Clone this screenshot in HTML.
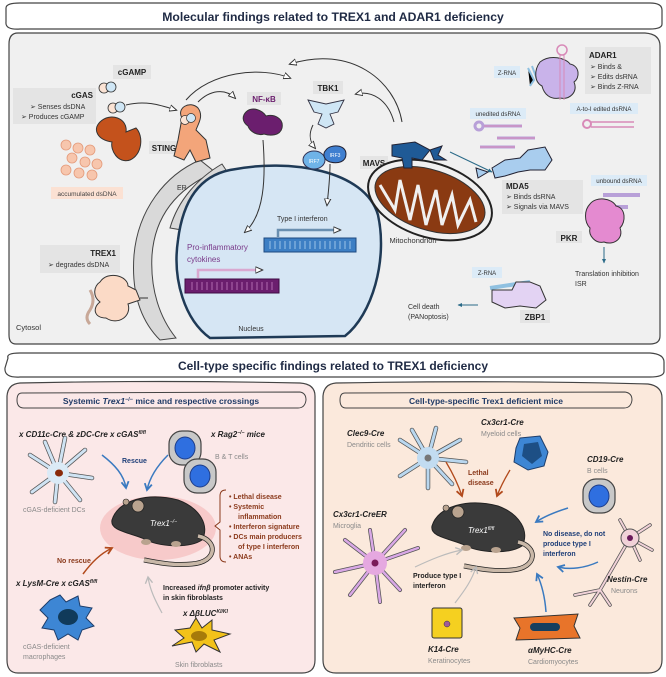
<!DOCTYPE html>
<html><head><meta charset="utf-8"><style>
html,body{margin:0;padding:0;background:#fff}
svg{display:block}
text{font-family:"Liberation Sans",sans-serif}
.t{font-size:7px;fill:#333}
.b{font-weight:bold;fill:#222}
.lb{fill:#e4e4e4}
.it{font-style:italic;font-weight:bold;font-size:8px;fill:#222}
.g{font-size:7px;fill:#8a8a8a}
.br{font-size:7px;fill:#8b3a1c;font-weight:bold}
.bl{font-size:7px;fill:#1f3f78;font-weight:bold}
</style></head><body>
<svg width="666" height="677" viewBox="0 0 666 677" xmlns="http://www.w3.org/2000/svg">
<defs>
<marker id="ah" viewBox="0 0 10 10" refX="8" refY="5" markerWidth="8" markerHeight="8" markerUnits="userSpaceOnUse" orient="auto"><path d="M0,1 L9,5 L0,9 Z" fill="#fff" stroke="#333" stroke-width="1.2"/></marker>
<marker id="ab" viewBox="0 0 10 10" refX="8" refY="5" markerWidth="9" markerHeight="9" markerUnits="userSpaceOnUse" orient="auto"><path d="M1,1 L8,5 L1,9" fill="none" stroke="#3a7ac0" stroke-width="2"/></marker>
<marker id="ao" viewBox="0 0 10 10" refX="8" refY="5" markerWidth="9" markerHeight="9" markerUnits="userSpaceOnUse" orient="auto"><path d="M1,1 L8,5 L1,9" fill="none" stroke="#b24a1c" stroke-width="2"/></marker>
<marker id="ag" viewBox="0 0 10 10" refX="8" refY="5" markerWidth="9" markerHeight="9" markerUnits="userSpaceOnUse" orient="auto"><path d="M1,1 L8,5 L1,9" fill="none" stroke="#bbb" stroke-width="1.5"/></marker>
<marker id="an" viewBox="0 0 10 10" refX="8" refY="5" markerWidth="5" markerHeight="5" markerUnits="userSpaceOnUse" orient="auto"><path d="M0,1 L9,5 L0,9 Z" fill="#2a6a88"/></marker>
<g id="mouse">
<path d="M-48,-2 C-42,-22 -12,-30 18,-22 C40,-14 50,4 42,18 C30,26 0,26 -18,16 C-34,10 -50,8 -48,-2Z" fill="#3a3a3a" stroke="#222" stroke-width="1"/>
<circle cx="-22" cy="-16" r="6" fill="#b9a38f" stroke="#222" stroke-width="0.8"/>
<circle cx="-34" cy="-20" r="3" fill="#b9a38f" stroke="#222" stroke-width="0.6"/>
<path d="M38,14 C58,18 58,40 32,42 C12,44 -4,40 -16,38" fill="none" stroke="#222" stroke-width="5"/>
<path d="M38,14 C58,18 58,40 32,42 C12,44 -4,40 -16,38" fill="none" stroke="#c9b8a8" stroke-width="3.5"/>
<ellipse cx="-14" cy="20" rx="5" ry="3" fill="#b9a38f"/><ellipse cx="16" cy="22" rx="5" ry="3" fill="#b9a38f"/>
</g>
<g id="cellB"><rect x="-16" y="-17" width="32" height="34" rx="13" fill="#c8c8c8" stroke="#444" stroke-width="1.2"/><ellipse cx="0" cy="0" rx="10" ry="11" fill="#2f6fe0" stroke="#1d3d8a"/></g>
</defs>

<!-- TOP HEADER -->
<path d="M6,8 Q6,3 20,3 L650,3 Q662,3 662,10 L662,24 Q662,29 650,29 L20,29 Q5,30 6,22Z" fill="#fff" stroke="#444" stroke-width="1.2"/>
<text x="333" y="21" text-anchor="middle" font-size="12.2" font-weight="bold" fill="#1f2a44">Molecular findings related to TREX1 and ADAR1 deficiency</text>

<!-- TOP PANEL -->
<path d="M18,33 L645,33 Q660,34 660,46 L660,336 Q660,344 650,344 L16,344 Q9,344 9,335 L9,44 Q9,33 18,33Z" fill="#f0f0f0" stroke="#444" stroke-width="1.2"/>

<!-- ER -->
<path d="M200,160 C165,175 138,210 134,255 C131,295 142,322 160,340 L176,338 C160,318 150,290 152,255 C155,215 178,188 215,172 Z" fill="#d9d9d9" stroke="#444" stroke-width="1"/>
<path d="M222,164 C198,178 178,200 170,228 L182,230 C190,205 206,188 230,176Z" fill="#d9d9d9" stroke="#444" stroke-width="1"/>
<text x="177" y="190" class="t" font-size="6">ER</text>

<!-- Nucleus -->
<path d="M230,170 C290,158 365,170 378,215 C388,260 372,315 345,336 L210,338 C185,320 172,280 178,240 C183,200 200,176 230,170Z" fill="#d6e6f4" stroke="#1f3a56" stroke-width="2.5"/>
<text x="251" y="331" class="t" text-anchor="middle">Nucleus</text>
<text x="277" y="221" class="t" font-size="8" fill="#333">Type I interferon</text>
<path d="M278,237 L278,230 L340,230" fill="none" stroke="#6a8fb0" stroke-width="2.5" marker-end="url(#ah)"/>
<rect x="264" y="238" width="92" height="14" fill="#3d7fc4" stroke="#1f4a80"/>
<g stroke="#9cc3e8" stroke-width="1"><path d="M270,241v8M275,241v8M280,241v8M285,241v8M290,241v8M295,241v8M300,241v8M305,241v8M310,241v8M315,241v8M320,241v8M325,241v8M330,241v8M335,241v8M340,241v8M345,241v8M350,241v8"/></g>
<text x="187" y="250" font-size="8" fill="#7a3a8a">Pro-inflammatory</text>
<text x="187" y="262" font-size="8" fill="#7a3a8a">cytokines</text>
<path d="M198,278 L198,270 L262,270" fill="none" stroke="#d9a8d0" stroke-width="2.5" marker-end="url(#ah)"/>
<rect x="185" y="279" width="94" height="14" fill="#6b1e6e" stroke="#3f0c44"/>
<g stroke="#b06ab0" stroke-width="1"><path d="M192,282v8M197,282v8M202,282v8M207,282v8M212,282v8M217,282v8M222,282v8M227,282v8M232,282v8M237,282v8M242,282v8M247,282v8M252,282v8M257,282v8M262,282v8M267,282v8M272,282v8"/></g>

<!-- cGAMP -->
<rect x="113" y="65" width="38" height="14" class="lb"/>
<text x="132" y="75" text-anchor="middle" font-size="8" class="b">cGAMP</text>
<circle cx="104" cy="88" r="5" fill="#fbe3d4" stroke="#333" stroke-width="0.8"/><circle cx="111" cy="87" r="5" fill="#cfe6f5" stroke="#333" stroke-width="0.8"/>
<circle cx="113" cy="108" r="5" fill="#fbe3d4" stroke="#333" stroke-width="0.8"/><circle cx="120" cy="107" r="5" fill="#cfe6f5" stroke="#333" stroke-width="0.8"/>
<!-- cGAS -->
<rect x="13" y="88" width="83" height="36" class="lb"/>
<text x="93" y="98" text-anchor="end" font-size="8" class="b">cGAS</text>
<text x="30" y="109" class="t">➢  Senses dsDNA</text>
<text x="21" y="119" class="t">➢  Produces cGAMP</text>
<path d="M100,122 C110,112 128,118 126,132 L136,128 C144,136 142,155 130,160 C118,164 110,150 112,142 C98,140 92,130 100,122Z" fill="#c4521c" stroke="#333" stroke-width="1"/>
<g fill="#f7c6ad" stroke="#e49a7a" stroke-width="0.8">
<circle cx="66" cy="145" r="5"/><circle cx="78" cy="148" r="5"/><circle cx="90" cy="150" r="5"/><circle cx="72" cy="158" r="5"/><circle cx="85" cy="162" r="5"/><circle cx="97" cy="164" r="5"/><circle cx="66" cy="170" r="5"/><circle cx="79" cy="173" r="5"/><circle cx="92" cy="175" r="5"/></g>
<rect x="51" y="187" width="72" height="12" fill="#fbe1d3"/>
<text x="87" y="196" text-anchor="middle" font-size="6.5" fill="#444">accumulated dsDNA</text>

<!-- STING -->
<rect x="149" y="141" width="30" height="13" class="lb"/>
<text x="164" y="151" text-anchor="middle" font-size="8" class="b">STING</text>
<path d="M182,118 C176,108 190,100 198,108 C204,116 198,124 196,130 L206,140 L210,158 L196,162 L190,150 L184,160 L174,156 L178,140 Z" fill="#f3a57a" stroke="#333" stroke-width="1"/>
<circle cx="185" cy="120" r="4.5" fill="#fbe3d4" stroke="#333" stroke-width="0.7"/><circle cx="191" cy="118" r="4.5" fill="#cfe6f5" stroke="#333" stroke-width="0.7"/>

<!-- NF-kB -->
<rect x="247" y="92" width="34" height="13" class="lb"/>
<text x="264" y="102" text-anchor="middle" font-size="8" font-weight="bold" fill="#6b1e6e">NF-κB</text>
<path d="M246,112 C252,106 262,110 266,116 C274,114 284,118 282,128 C280,136 270,136 264,134 C258,136 250,132 248,126 C242,122 242,116 246,112Z" fill="#6b1e6e" stroke="#333"/>

<!-- TBK1 -->
<rect x="313" y="81" width="30" height="13" class="lb"/>
<text x="328" y="91" text-anchor="middle" font-size="8" class="b">TBK1</text>
<path d="M308,100 L326,104 L344,100 L338,112 L330,114 L334,124 L326,128 L318,124 L322,114 L314,112Z" fill="#cfe6f5" stroke="#334" stroke-width="0.9"/>
<ellipse cx="314" cy="160" rx="11" ry="9" fill="#6fb3e8" stroke="#335"/>
<text x="314" y="163" text-anchor="middle" font-size="5" fill="#fff">IRF7</text>
<path d="M326,150 C330,144 346,144 346,154 C346,162 338,164 330,162 C324,160 322,154 326,150Z" fill="#3f7fd0" stroke="#223"/>
<text x="335" y="157" text-anchor="middle" font-size="5" fill="#fff">IRF3</text>

<!-- MAVS & mito -->
<rect x="360" y="156" width="28" height="13" class="lb"/>
<text x="374" y="166" text-anchor="middle" font-size="8" class="b">MAVS</text>
<ellipse cx="430" cy="200" rx="64" ry="37" transform="rotate(18 430 200)" fill="#f0f0f0" stroke="#222" stroke-width="2"/>
<ellipse cx="430" cy="200" rx="57" ry="30" transform="rotate(18 430 200)" fill="#8a3a12" stroke="#333"/>
<path d="M380,185 L395,210 L400,180 L410,220 L418,185 L426,225 L436,190 L442,225 L452,195 L458,225 L470,200 L476,222" fill="none" stroke="#f0f0f0" stroke-width="3"/>
<text x="413" y="243" text-anchor="middle" font-size="7.5" fill="#333">Mitochondrion</text>
<path d="M392,145 L415,142 L430,150 L422,160 L412,158 L412,168 L404,168 L402,158 L392,156Z" fill="#1f5a96" stroke="#223"/>
<path d="M430,150 L442,146 L438,155 L446,160 L434,160Z" fill="#1f5a96" stroke="#223"/>
<line x1="450" y1="152" x2="492" y2="172" stroke="#2a6a88" stroke-width="1" marker-end="url(#an)"/>

<!-- MDA5 -->
<rect x="470" y="108" width="56" height="11" fill="#dcebf7"/>
<text x="498" y="116" text-anchor="middle" font-size="6.2" fill="#333">unedited dsRNA</text>
<g stroke="#b8a0d8" stroke-width="3" fill="none"><circle cx="479" cy="126" r="4"/><path d="M484,126 H522 M497,138 H535 M480,147 H515"/></g>
<g stroke="#d88ab8" stroke-width="1" fill="none"><path d="M484,126 H522 M497,138 H535 M480,147 H515"/></g>
<path d="M492,168 L505,160 L520,158 L528,150 L545,147 L552,160 L545,170 L530,170 L518,172 L505,176 L495,178Z" fill="#a9cdee" stroke="#223"/>
<path d="M476,168 L488,172 L478,178Z" fill="#a9cdee" stroke="#223"/>
<rect x="502" y="180" width="81" height="34" class="lb"/>
<text x="506" y="189" font-size="8" class="b">MDA5</text>
<text x="506" y="199" class="t">➢  Binds dsRNA</text>
<text x="506" y="209" class="t">➢  Signals via MAVS</text>

<!-- ADAR1 -->
<rect x="585" y="47" width="66" height="47" class="lb"/>
<text x="589" y="58" font-size="8" class="b">ADAR1</text>
<text x="590" y="69" class="t">➢  Binds &amp;</text>
<text x="590" y="79" class="t">➢  Edits dsRNA</text>
<text x="590" y="89" class="t">➢  Binds Z-RNA</text>
<rect x="494" y="66" width="26" height="12" fill="#dcebf7"/>
<text x="507" y="75" text-anchor="middle" font-size="6" fill="#333">Z-RNA</text>
<path d="M528,68 L534,80 L530,86 M532,66 L538,82" stroke="#8fc0e0" stroke-width="2"/>
<path d="M540,62 C550,54 566,58 570,64 C580,66 580,78 574,82 C578,92 570,100 560,98 C550,100 544,94 542,86 C534,82 534,70 540,62Z" fill="#c9b3ea" stroke="#333"/>
<circle cx="562" cy="50" r="5" fill="none" stroke="#d88ab8" stroke-width="1.5"/><path d="M560,55 V100 M564,55 V100" stroke="#d88ab8"/>
<rect x="570" y="103" width="68" height="11" fill="#dcebf7"/>
<text x="604" y="111" text-anchor="middle" font-size="6.2" fill="#333">A-to-I edited dsRNA</text>
<circle cx="587" cy="124" r="4" fill="none" stroke="#d88ab8" stroke-width="2"/><path d="M591,122 H634 M591,127 H634" stroke="#d88ab8" stroke-width="1.5"/>

<!-- PKR -->
<rect x="591" y="175" width="56" height="11" fill="#dcebf7"/>
<text x="619" y="183" text-anchor="middle" font-size="6.2" fill="#333">unbound dsRNA</text>
<path d="M603,195 H640 M590,207 H628" stroke="#b8a0d8" stroke-width="4"/>
<path d="M590,204 C596,196 612,198 616,206 C626,208 626,222 620,228 C624,238 614,246 604,242 C596,244 588,236 590,228 C584,222 584,210 590,204Z" fill="#e48ad0" stroke="#333"/>
<rect x="556" y="231" width="26" height="12" class="lb"/>
<text x="569" y="241" text-anchor="middle" font-size="8" class="b">PKR</text>
<line x1="604" y1="247" x2="604" y2="263" stroke="#2a6a88" stroke-width="1" marker-end="url(#an)"/>
<text x="575" y="276" font-size="7" fill="#333">Translation inhibition</text>
<text x="575" y="286" font-size="7" fill="#333">ISR</text>

<!-- ZBP1 -->
<rect x="472" y="267" width="30" height="11" fill="#dcebf7"/>
<text x="487" y="275" text-anchor="middle" font-size="6" fill="#333">Z-RNA</text>
<path d="M490,288 L530,282" stroke="#8fc0e0" stroke-width="4"/>
<path d="M492,290 L512,290 L516,282 L530,282 L540,286 L546,300 L536,308 L520,306 L505,308 L492,302Z" fill="#e3d3f3" stroke="#333"/>
<rect x="520" y="310" width="30" height="13" class="lb"/>
<text x="535" y="320" text-anchor="middle" font-size="8" class="b">ZBP1</text>
<line x1="478" y1="305" x2="458" y2="305" stroke="#2a6a88" stroke-width="1" marker-end="url(#an)"/>
<text x="408" y="309" font-size="7" fill="#333">Cell death</text>
<text x="408" y="319" font-size="7" fill="#333">(PANoptosis)</text>

<!-- TREX1 -->
<rect x="40" y="245" width="80" height="28" class="lb"/>
<text x="116" y="256" text-anchor="end" font-size="8" class="b">TREX1</text>
<text x="48" y="267" class="t">➢  degrades dsDNA</text>
<path d="M100,282 C108,270 128,276 128,286 L136,290 L140,300 L128,304 C132,316 118,326 106,318 C94,318 92,308 100,302 C92,296 94,286 100,282Z" fill="#fbdac6" stroke="#333"/>
<path d="M140,298 H148" stroke="#333"/>
<path d="M90,290 Q96,300 90,310 Q84,318 90,324" stroke="#c8a898" stroke-width="3" fill="none"/>
<text x="16" y="330" font-size="7.5" fill="#333">Cytosol</text>

<!-- arrows -->
<path d="M126,105 C145,100 160,105 176,110" fill="none" stroke="#333" stroke-width="1" marker-end="url(#ah)"/>
<path d="M186,100 C210,72 260,66 290,78" fill="none" stroke="#333" stroke-width="1" marker-end="url(#ah)"/>
<path d="M198,102 C210,90 225,88 235,98" fill="none" stroke="#333" stroke-width="1" marker-end="url(#ah)"/>
<path d="M402,122 C395,80 350,45 290,64" fill="none" stroke="#333" stroke-width="1" marker-end="url(#ah)"/>
<path d="M394,122 C388,100 372,90 356,94" fill="none" stroke="#333" stroke-width="1" marker-end="url(#ah)"/>
<path d="M313,125 C308,135 310,142 315,148" fill="none" stroke="#333" stroke-width="1" marker-end="url(#ah)"/>
<path d="M330,164 C330,180 328,195 327,205" fill="none" stroke="#333" stroke-width="1" marker-end="url(#ah)"/>
<path d="M263,140 C266,180 264,215 245,232" fill="none" stroke="#333" stroke-width="1" marker-end="url(#ah)"/>

<!-- BOTTOM HEADER -->
<path d="M8,358 Q6,353 20,353 L650,353 Q664,354 664,362 L664,372 Q663,377 650,377 L20,377 Q4,378 5,368Z" fill="#fff" stroke="#444" stroke-width="1.2"/>
<text x="333" y="370" text-anchor="middle" font-size="12" font-weight="bold" fill="#1f2a44">Cell-type specific findings related to TREX1 deficiency</text>

<!-- LEFT PANEL -->
<path d="M20,383 Q160,380 300,383 Q315,384 315,396 L315,660 Q315,673 302,673 L18,673 Q7,673 7,660 L7,396 Q8,384 20,383Z" fill="#fbe8e8" stroke="#444" stroke-width="1.2"/>
<path d="M22,393 L300,392 Q306,393 306,400 Q305,408 298,408 L24,408 Q17,408 17,400 Q17,393 22,393Z" fill="#fbe8e8" stroke="#444" stroke-width="1"/>
<text x="161" y="404" text-anchor="middle" font-size="8.5" fill="#1f3a66" font-weight="bold">Systemic <tspan font-style="italic">Trex1</tspan><tspan font-size="5.5" dy="-3">−/−</tspan><tspan dy="3"> mice and respective crossings</tspan></text>

<text x="19" y="437" class="it">x CD11c-Cre &amp; zDC-Cre x cGAS<tspan font-size="5" dy="-3">fl/fl</tspan></text>
<g stroke="#555" stroke-width="4.5" stroke-linecap="round"><path d="M58,473 L30,455 M58,473 L45,442 M58,473 L65,438 M58,473 L85,450 M58,473 L92,478 M58,473 L80,500 M58,473 L55,502 M58,473 L32,492"/></g>
<g stroke="#cfe3f3" stroke-width="3" stroke-linecap="round"><path d="M58,473 L30,455 M58,473 L45,442 M58,473 L65,438 M58,473 L85,450 M58,473 L92,478 M58,473 L80,500 M58,473 L55,502 M58,473 L32,492"/></g>
<circle cx="58" cy="473" r="11" fill="#dbeaf6"/><ellipse cx="59" cy="473" rx="4" ry="3.5" fill="#8a2a0a"/>
<text x="23" y="512" class="g">cGAS-deficient DCs</text>
<text x="122" y="463" class="bl" fill="#1f3a66">Rescue</text>
<path d="M102,455 C115,465 124,475 126,488" fill="none" stroke="#3a7ac0" stroke-width="1.5" marker-end="url(#ab)"/>
<path d="M168,455 C158,465 150,476 147,490" fill="none" stroke="#3a7ac0" stroke-width="1.5" marker-end="url(#ab)"/>
<text x="211" y="437" class="it">x <tspan>Rag2</tspan><tspan font-size="5" dy="-3">−/−</tspan><tspan dy="3"> mice</tspan></text>
<use href="#cellB" x="185" y="448"/><use href="#cellB" x="200" y="476"/>
<text x="215" y="459" class="g">B &amp; T cells</text>
<ellipse cx="158" cy="528" rx="58" ry="32" fill="#f5b5b5" opacity="0.6"/>
<use href="#mouse" x="160" y="522"/>
<text x="150" y="526" font-size="8" font-style="italic" fill="#fff">Trex1<tspan font-size="5" dy="-3">−/−</tspan></text>
<path d="M226,490 Q220,490 220,496 L220,522 L215,526 L220,530 L220,556 Q220,562 226,562" fill="none" stroke="#8b3a1c" stroke-width="1"/>
<g class="br"><text x="229" y="499">•  Lethal disease</text><text x="229" y="509">•  Systemic</text><text x="238" y="519">inflammation</text><text x="229" y="529">•  Interferon signature</text><text x="229" y="539">•  DCs main producers</text><text x="238" y="549">of type I interferon</text><text x="229" y="559">•  ANAs</text></g>
<text x="57" y="563" class="br">No rescue</text>
<path d="M83,574 C92,562 100,554 112,548" fill="none" stroke="#b24a1c" stroke-width="1.5" marker-end="url(#ao)"/>
<text x="16" y="586" class="it">x LysM-Cre x cGAS<tspan font-size="5" dy="-3">fl/fl</tspan></text>
<path d="M50,600 L60,595 L66,602 L78,596 L80,606 L92,608 L86,618 L94,626 L82,630 L78,640 L68,634 L58,640 L54,630 L42,628 L48,618 L40,610Z" fill="#3d86d4" stroke="#1d3d6a"/>
<ellipse cx="68" cy="617" rx="10" ry="8" fill="#103a5a"/>
<text x="23" y="649" class="g">cGAS-deficient</text>
<text x="23" y="659" class="g">macrophages</text>
<path d="M162,613 C155,600 150,590 148,577" fill="none" stroke="#bbb" stroke-width="1.2" marker-end="url(#ag)"/>
<text x="163" y="590" font-size="7" font-weight="bold" fill="#222">Increased <tspan font-style="italic">ifnβ</tspan> promoter activity</text>
<text x="163" y="600" font-size="7" font-weight="bold" fill="#222">in skin fibroblasts</text>
<text x="183" y="616" class="it">x ΔβLUC<tspan font-size="5" dy="-3">KI/KI</tspan></text>
<path d="M175,630 L190,628 L196,618 L202,628 L212,620 L212,630 L230,634 L214,640 L220,652 L204,644 L196,652 L192,642 L172,646 L184,638Z" fill="#f2c21a" stroke="#333"/>
<ellipse cx="199" cy="636" rx="8" ry="5" fill="#a67a0a"/>
<text x="175" y="667" class="g">Skin fibroblasts</text>

<!-- RIGHT PANEL -->
<path d="M336,383 Q500,380 648,384 Q662,386 662,398 L662,660 Q662,673 648,673 L336,673 Q323,673 323,660 L323,396 Q324,384 336,383Z" fill="#fbe9dc" stroke="#444" stroke-width="1.2"/>
<path d="M345,393 L625,392 Q632,393 632,400 Q631,408 624,408 L346,408 Q340,408 340,400 Q340,393 345,393Z" fill="#fbe9dc" stroke="#444" stroke-width="1"/>
<text x="486" y="404" text-anchor="middle" font-size="8.5" fill="#1f3a66" font-weight="bold">Cell-type-specific Trex1 deficient mice</text>

<text x="347" y="436" class="it">Clec9-Cre</text>
<text x="347" y="447" class="g">Dendritic cells</text>
<g stroke="#555" stroke-width="4.5" stroke-linecap="round"><path d="M428,458 L400,440 M428,458 L412,430 M428,458 L436,428 M428,458 L460,440 M428,458 L466,462 M428,458 L452,484 M428,458 L428,488 M428,458 L400,476"/></g>
<g stroke="#b9d7ef" stroke-width="3" stroke-linecap="round"><path d="M428,458 L400,440 M428,458 L412,430 M428,458 L436,428 M428,458 L460,440 M428,458 L466,462 M428,458 L452,484 M428,458 L428,488 M428,458 L400,476"/></g>
<circle cx="428" cy="458" r="11" fill="#c2dcf1"/><circle cx="428" cy="458" r="3.5" fill="#777"/>
<text x="481" y="425" class="it">Cx3cr1-Cre</text>
<text x="481" y="436" class="g">Myeloid cells</text>
<path d="M520,438 L540,436 L548,452 L544,466 L528,470 L514,462 L516,448Z" fill="#3d86d4" stroke="#1d3d6a"/>
<path d="M524,444 L538,442 L542,456 L532,464 L522,456Z" fill="#1d4f85"/>
<text x="468" y="475" class="br">Lethal</text><text x="468" y="485" class="br">disease</text>
<path d="M446,462 C452,472 458,484 462,496" fill="none" stroke="#b24a1c" stroke-width="1.3" marker-end="url(#ao)"/>
<path d="M510,470 C504,480 500,488 497,496" fill="none" stroke="#b24a1c" stroke-width="1.3" marker-end="url(#ao)"/>
<text x="587" y="462" class="it">CD19-Cre</text>
<text x="587" y="473" class="g">B cells</text>
<use href="#cellB" x="599" y="496"/>
<text x="333" y="517" class="it">Cx3cr1-CreER</text>
<text x="333" y="528" class="g">Microglia</text>
<g stroke="#555" stroke-width="4" stroke-linecap="round"><path d="M375,563 L370,530 M375,563 L345,540 M375,563 L335,572 M375,563 L350,595 M375,563 L380,602 M375,563 L400,590 M375,563 L418,548 M375,563 L405,530"/></g>
<g stroke="#d9a8e6" stroke-width="2.5" stroke-linecap="round"><path d="M375,563 L370,530 M375,563 L345,540 M375,563 L335,572 M375,563 L350,595 M375,563 L380,602 M375,563 L400,590 M375,563 L418,548 M375,563 L405,530"/></g>
<circle cx="375" cy="563" r="12" fill="#e5a8e0"/><circle cx="375" cy="563" r="3.5" fill="#7a1a5a"/>
<use href="#mouse" x="480" y="528"/>
<text x="468" y="533" font-size="8" font-style="italic" fill="#fff">Trex1<tspan font-size="5" dy="-3">fl/fl</tspan></text>
<text x="543" y="536" class="bl">No disease, do not</text>
<text x="543" y="546" class="bl">produce type I</text>
<text x="543" y="556" class="bl">interferon</text>
<path d="M568,508 C555,512 545,516 536,522" fill="none" stroke="#3a7ac0" stroke-width="1.5" marker-end="url(#ab)"/>
<path d="M598,562 C585,568 570,570 558,567" fill="none" stroke="#3a7ac0" stroke-width="1.5" marker-end="url(#ab)"/>
<path d="M546,612 C545,598 542,585 537,574" fill="none" stroke="#3a7ac0" stroke-width="1.5" marker-end="url(#ab)"/>
<g stroke="#555" stroke-width="3.5" stroke-linecap="round" fill="none"><path d="M630,538 L600,590 L575,595 M600,590 L590,605 M600,590 L610,605 M630,538 L620,520 M630,538 L650,525 M630,538 L652,550 M630,538 L640,560"/></g>
<g stroke="#f1d2d8" stroke-width="2" stroke-linecap="round" fill="none"><path d="M630,538 L600,590 L575,595 M600,590 L590,605 M600,590 L610,605 M630,538 L620,520 M630,538 L650,525 M630,538 L652,550 M630,538 L640,560"/></g>
<circle cx="630" cy="538" r="9" fill="#f1d2d8" stroke="#555"/><circle cx="630" cy="538" r="3" fill="#6a1a5a"/>
<text x="607" y="582" class="it">Nestin-Cre</text>
<text x="611" y="593" class="g">Neurons</text>
<text x="413" y="578" font-size="7" font-weight="bold" fill="#222">Produce type I</text>
<text x="413" y="588" font-size="7" font-weight="bold" fill="#222">interferon</text>
<path d="M415,567 C430,560 446,553 462,550" fill="none" stroke="#bbb" stroke-width="1.2" marker-end="url(#ag)"/>
<path d="M455,603 C465,590 472,580 476,567" fill="none" stroke="#bbb" stroke-width="1.2" marker-end="url(#ag)"/>
<rect x="432" y="608" width="30" height="30" rx="2" fill="#f5d020" stroke="#333"/>
<circle cx="447" cy="624" r="3" fill="#a05a9a" stroke="#333" stroke-width="0.5"/>
<text x="428" y="652" class="it">K14-Cre</text>
<text x="428" y="663" class="g">Keratinocytes</text>
<path d="M514,618 L578,614 L574,626 L580,638 L516,640 L520,628Z" fill="#e8742a" stroke="#333"/>
<rect x="530" y="623" width="30" height="8" rx="4" fill="#163f5f"/>
<text x="528" y="653" class="it">αMyHC-Cre</text>
<text x="528" y="664" class="g">Cardiomyocytes</text>
</svg>
</body></html>
